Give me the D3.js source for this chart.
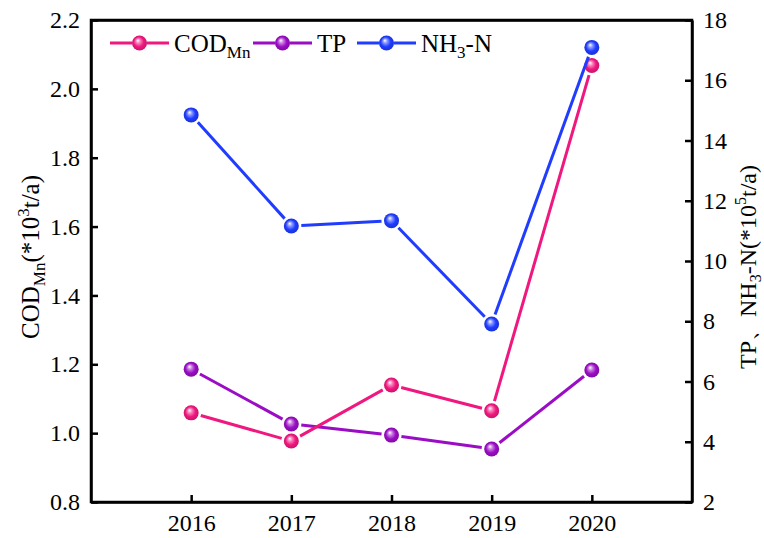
<!DOCTYPE html>
<html>
<head>
<meta charset="utf-8">
<script src="https://cdn.jsdelivr.net/npm/d3@7"></script>
<style>
  html, body { margin: 0; padding: 0; background: #fff; }
  svg { display: block; font-family: "Liberation Serif", "Times New Roman", serif; }
</style>
</head>
<body>
<svg id="chart" width="764" height="538"></svg>
<script>
// Annual loads, 2016–2020
const years = [2016, 2017, 2018, 2019, 2020];
const codMn = [1.059, 0.977, 1.140, 1.065, 2.068];   // left axis, *10^3 t/a
const tp    = [6.41, 4.59, 4.22, 3.76, 6.38];        // right axis, *10^5 t/a
const nh3n  = [14.85, 11.16, 11.34, 7.91, 17.09];    // right axis, *10^5 t/a

const leftTicks  = [0.8, 1.0, 1.2, 1.4, 1.6, 1.8, 2.0, 2.2];
const rightTicks = [2, 4, 6, 8, 10, 12, 14, 16, 18];

const colors = { cod: "#f0177f", tp: "#9a0dc4", nh3: "#1f3cff" };

const svg = d3.select("#chart");
const plot = { left: 91, right: 692, top: 20, bottom: 502 };

const x = d3.scaleLinear().domain([2015, 2021]).range([plot.left, plot.right]);
const yL = d3.scaleLinear().domain([0.8, 2.2]).range([plot.bottom, plot.top]);
const yR = d3.scaleLinear().domain([2, 18]).range([plot.bottom, plot.top]);

// Sphere-like marker gradients
const defs = svg.append("defs");
function sphere(id, c) {
  const g = defs.append("radialGradient").attr("id", id)
    .attr("cx", "50%").attr("cy", "50%").attr("r", "55%")
    .attr("fx", "38%").attr("fy", "32%");
  g.append("stop").attr("offset", "0%").attr("stop-color", "#ffffff");
  g.append("stop").attr("offset", "28%").attr("stop-color", d3.interpolateRgb("#ffffff", c)(0.55));
  g.append("stop").attr("offset", "60%").attr("stop-color", c);
  g.append("stop").attr("offset", "100%").attr("stop-color", d3.color(c).darker(0.6));
}
sphere("g-cod", colors.cod);
sphere("g-tp", colors.tp);
sphere("g-nh3", colors.nh3);

const R = 7.5;     // marker radius
const GAP = 2.5;   // gap between line end and marker

// Line segments shortened so they stop short of the markers
function drawSeries(vals, yScale, color, grad) {
  const pts = vals.map((v, i) => [x(years[i]), yScale(v)]);
  const g = svg.append("g");
  for (let i = 0; i < pts.length - 1; i++) {
    const [x1, y1] = pts[i], [x2, y2] = pts[i + 1];
    const dx = x2 - x1, dy = y2 - y1, len = Math.hypot(dx, dy);
    const k = (R + GAP) / len;
    g.append("line")
      .attr("x1", x1 + dx * k).attr("y1", y1 + dy * k)
      .attr("x2", x2 - dx * k).attr("y2", y2 - dy * k)
      .attr("stroke", color).attr("stroke-width", 3);
  }
  g.selectAll("circle").data(pts).join("circle")
    .attr("cx", d => d[0]).attr("cy", d => d[1]).attr("r", R)
    .attr("fill", `url(#${grad})`);
}

drawSeries(tp, yR, colors.tp, "g-tp");
drawSeries(codMn, yL, colors.cod, "g-cod");
drawSeries(nh3n, yR, colors.nh3, "g-nh3");

// Axes (ticks point into the plot)
const tickFont = 24;
const axL = svg.append("g").attr("transform", `translate(${plot.left},0)`)
  .call(d3.axisLeft(yL).tickValues(leftTicks).tickFormat(d3.format(".1f")).tickSizeInner(-7).tickSizeOuter(0).tickPadding(11));
const axR = svg.append("g").attr("transform", `translate(${plot.right},0)`)
  .call(d3.axisRight(yR).tickValues(rightTicks).tickFormat(d3.format("d")).tickSizeInner(-7).tickSizeOuter(0).tickPadding(11));
const axB = svg.append("g").attr("transform", `translate(0,${plot.bottom})`)
  .call(d3.axisBottom(x).tickValues(years).tickFormat(d3.format("d")).tickSizeInner(-7).tickSizeOuter(0).tickPadding(12));
const axT = svg.append("g").attr("transform", `translate(0,${plot.top})`)
  .call(d3.axisTop(x).tickValues([]).tickSizeOuter(0));

[axL, axR, axB, axT].forEach(a => {
  a.selectAll("path.domain").attr("stroke", "#000").attr("stroke-width", 2.5);
  a.selectAll(".tick line").attr("stroke", "#000").attr("stroke-width", 2.5);
  a.selectAll(".tick text").attr("font-size", tickFont).attr("fill", "#000")
    .attr("font-family", "Liberation Serif, Times New Roman, serif");
});
// Close the frame corners
svg.append("rect")
  .attr("x", plot.left).attr("y", plot.top)
  .attr("width", plot.right - plot.left).attr("height", plot.bottom - plot.top)
  .attr("fill", "none").attr("stroke", "#000").attr("stroke-width", 2.5);

// Axis titles
const lt = svg.append("text")
  .attr("transform", `translate(39,257) rotate(-90)`)
  .attr("text-anchor", "middle").attr("font-size", 25).attr("fill", "#000");
lt.append("tspan").text("COD");
lt.append("tspan").attr("font-size", 17).attr("dy", 6).text("Mn");
lt.append("tspan").attr("dy", -6).text("(*10");
lt.append("tspan").attr("font-size", 17).attr("dy", -10).text("3");
lt.append("tspan").attr("dy", 10).text("t/a)");

const rt = svg.append("text")
  .attr("transform", `translate(756,267) rotate(-90)`)
  .attr("text-anchor", "middle").attr("font-size", 24).attr("fill", "#000");
rt.append("tspan").text("TP、NH");
rt.append("tspan").attr("font-size", 16).attr("dy", 5).text("3");
rt.append("tspan").attr("dy", -5).text("-N(*10");
rt.append("tspan").attr("font-size", 16).attr("dy", -10).text("5");
rt.append("tspan").attr("dy", 10).text("t/a)");

// Legend
const legend = [
  { key: "cod", grad: "g-cod", x0: 110, label: [["COD", 0, 25], ["Mn", 6, 17]] },
  { key: "tp", grad: "g-tp", x0: 253, label: [["TP", 0, 25]] },
  { key: "nh3", grad: "g-nh3", x0: 357, label: [["NH", 0, 25], ["3", 6, 17], ["-N", -6, 25]] }
];
const ly = 43;
legend.forEach(l => {
  const g = svg.append("g");
  g.append("line").attr("x1", l.x0).attr("x2", l.x0 + 59).attr("y1", ly).attr("y2", ly)
    .attr("stroke", colors[l.key]).attr("stroke-width", 3);
  g.append("circle").attr("cx", l.x0 + 29.5).attr("cy", ly).attr("r", R)
    .attr("fill", "#fff");
  g.append("circle").attr("cx", l.x0 + 29.5).attr("cy", ly).attr("r", R)
    .attr("fill", `url(#${l.grad})`);
  const t = g.append("text").attr("x", l.x0 + 64).attr("y", ly + 9)
    .attr("font-size", 25).attr("fill", "#000");
  l.label.forEach(([s, dy, fs]) => t.append("tspan").attr("dy", dy).attr("font-size", fs).text(s));
});
</script>
</body>
</html>
